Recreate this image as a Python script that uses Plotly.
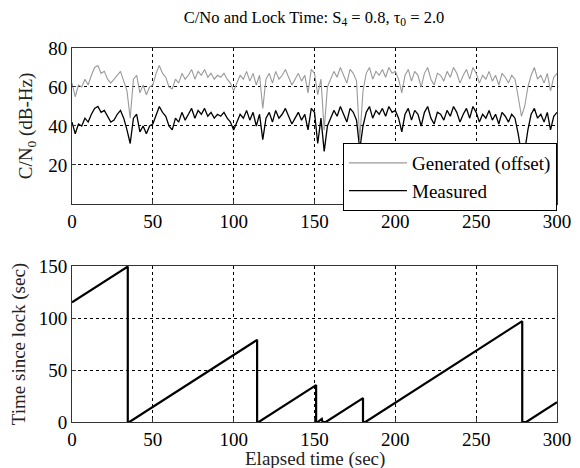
import plotly.graph_objects as go
from plotly.subplots import make_subplots

# Elapsed time (sec) for C/N0 samples
time_s = list(range(0, 301, 2))

measured = [42, 36, 41, 40, 44, 42, 46, 49, 50, 47, 48, 45, 42, 43, 46, 48, 44, 38, 31, 44,
            46, 37, 40, 36, 40, 41, 46, 50, 47, 45, 40, 38, 44, 42, 47, 43, 46, 49, 44, 48,
            46, 49, 45, 47, 44, 46, 45, 47, 44, 42, 38, 42, 46, 44, 48, 43, 47, 40, 46, 33,
            44, 47, 42, 48, 44, 46, 49, 45, 41, 44, 47, 43, 46, 38, 49, 47, 31, 44, 27, 40,
            44, 48, 45, 50, 46, 42, 49, 47, 43, 28, 40, 47, 50, 44, 48, 46, 49, 45, 50, 47,
            48, 44, 37, 46, 49, 43, 48, 46, 40, 47, 50, 44, 41, 47, 46, 43, 48, 45, 50, 47,
            42, 46, 49, 44, 50, 47, 42, 46, 44, 48, 43, 46, 41, 47, 45, 42, 46, 44, 36, 26,
            27, 38, 46, 49, 44, 46, 42, 47, 38, 45, 47]

generated = [62, 55, 61, 60, 64, 61, 66, 70, 71, 67, 68, 64, 62, 64, 66, 68, 63, 58, 44, 64,
             66, 57, 61, 56, 60, 61, 67, 71, 67, 65, 60, 59, 64, 62, 67, 64, 66, 69, 64, 68,
             66, 69, 65, 67, 64, 66, 65, 67, 64, 62, 58, 62, 66, 64, 68, 63, 67, 61, 66, 49,
             64, 67, 62, 68, 64, 66, 69, 65, 61, 64, 67, 63, 66, 57, 69, 67, 56, 64, 38, 60,
             64, 68, 65, 70, 66, 62, 69, 67, 63, 33, 58, 67, 70, 64, 68, 66, 69, 65, 70, 67,
             68, 64, 57, 66, 69, 63, 68, 66, 60, 67, 70, 64, 61, 67, 66, 63, 68, 65, 70, 67,
             62, 66, 69, 64, 70, 67, 62, 66, 64, 68, 63, 66, 61, 67, 65, 62, 66, 64, 55, 45,
             50, 60, 66, 70, 64, 66, 62, 67, 58, 65, 67]

# Time since lock breakpoints
lock_t = [0, 34.5, 34.5, 35.5, 114.5, 114.5, 115.5, 151, 151, 152, 154.5, 155, 157,
          180, 180, 181.5, 278.5, 278.5, 281, 300]
lock_v = [115, 149.5, 0, 0, 79, 0, 0, 35.5, 0, 0, 3, 0, 0,
          23, 0, 0, 97, 0, 0, 19]

FONT = "Liberation Serif"
FS = 19

fig = make_subplots(rows=2, cols=1, vertical_spacing=0.166)

fig.add_trace(go.Scatter(x=time_s, y=generated, mode="lines", name="Generated (offset)",
                         line=dict(color="#9a9a9a", width=1.1)), row=1, col=1)
fig.add_trace(go.Scatter(x=time_s, y=measured, mode="lines", name="Measured",
                         line=dict(color="black", width=1.3)), row=1, col=1)
fig.add_trace(go.Scatter(x=lock_t, y=lock_v, mode="lines", showlegend=False,
                         line=dict(color="black", width=2.2)), row=2, col=1)

axis_common = dict(showline=True, linecolor="#333", linewidth=1, mirror=True,
                   ticks="inside", ticklen=4, tickcolor="#333", automargin=False,
                   showgrid=True, gridcolor="black", griddash="3px,3px", gridwidth=1,
                   zeroline=False, tickfont=dict(family=FONT, size=FS, color="black"))

fig.update_xaxes(range=[0, 300], dtick=50, **axis_common)
fig.update_yaxes(**axis_common)
fig.update_yaxes(range=[0, 80], tickvals=[20, 40, 60, 80], row=1, col=1,
                 title=dict(text="C/N<sub>0</sub> (dB-Hz)", font=dict(family=FONT, size=FS, color="#222"), standoff=10))
fig.update_yaxes(range=[0, 150], dtick=50, row=2, col=1,
                 title=dict(text="Time since lock (sec)", font=dict(family=FONT, size=FS, color="#222"), standoff=10))

# page body has an 8px default margin, so the figure is sized/offset to compensate
fig.update_layout(
    width=572, height=460,
    margin=dict(l=64, r=23, t=40, b=46),
    paper_bgcolor="white", plot_bgcolor="white",
    title=dict(text="C/No and Lock Time: S<sub>4</sub> = 0.8, τ<sub>0</sub> = 2.0",
               x=0.535, xanchor="center", y=0.98, yanchor="middle",
               font=dict(family=FONT, size=16.5, color="black")),
    legend=dict(x=1, xanchor="right", y=0.746, yanchor="top",
                bgcolor="white", bordercolor="black", borderwidth=1,
                font=dict(family=FONT, size=FS, color="black"),
                tracegroupgap=0, itemwidth=58),
    font=dict(family=FONT),
    annotations=[dict(text="Elapsed time (sec)", xref="paper", yref="paper",
                      x=0.5, y=-0.099, xanchor="center", yanchor="middle",
                      showarrow=False, font=dict(family=FONT, size=FS, color="#222"))],
)

fig.write_html("out.html")
